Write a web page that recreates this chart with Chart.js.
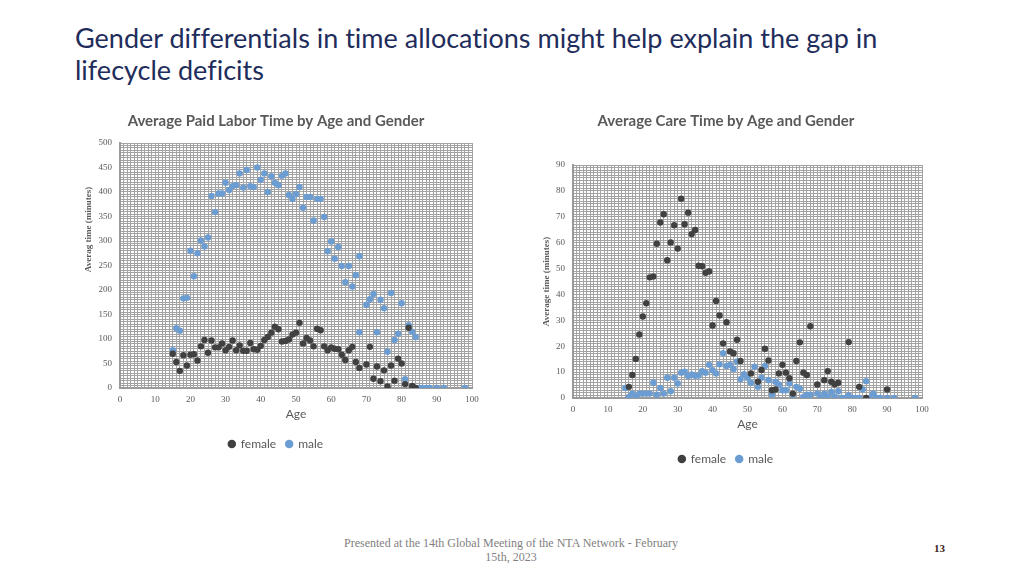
<!DOCTYPE html>
<html>
<head>
<meta charset="utf-8">
<script src="https://cdn.jsdelivr.net/npm/chart.js@4"></script>
<style>
  body { margin: 0; width: 1024px; height: 576px; background: #fff; position: relative; overflow: hidden; font-family: Lato, sans-serif; }
  #slideTitle { position: absolute; left: 75px; top: 22px; font-size: 27px; line-height: 32px; color: #1f2d5c; font-variant-ligatures: no-common-ligatures; }
  #footer { position: absolute; left: 336px; width: 350px; top: 536px; text-align: center; font-family: "Liberation Serif", serif; font-size: 12px; line-height: 14px; color: #7f7f7f; }
  #pageNum { position: absolute; left: 934px; top: 542px; font-family: "Liberation Serif", serif; font-size: 11px; font-weight: bold; color: #3b1c1c; }
  canvas { position: absolute; }
</style>
</head>
<body>
<div id="slideTitle">Gender differentials in time allocations might help explain the gap in<br>lifecycle deficits</div>
<canvas id="paidChart" width="412" height="362" style="left:80px; top:100px;"></canvas>
<canvas id="careChart" width="412" height="380" style="left:530px; top:100px;"></canvas>
<div id="footer">Presented at the 14th Global Meeting of the NTA Network - February 15th, 2023</div>
<div id="pageNum">13</div>
<script>
// Datos: minutos promedio por edad
const paidFemaleAge = [15,16,17,18,19,20,21,22,23,24,25,26,27,28,29,30,31,32,33,34,35,36,37,38,39,40,41,42,43,44,45,46,47,48,49,50,51,52,53,54,55,56,57,58,59,60,61,62,63,64,65,66,67,68,70,71,72,73,74,75,76,77,78,79,80,81,82,83,84];
const paidFemaleMin = [70,53,35,67,46,68,69,56,85,98,72,97,83,83,91,77,84,97,77,87,76,76,92,79,78,86,98,104,113,125,120,95,96,99,109,113,133,91,102,97,85,121,118,85,77,83,80,79,68,57,77,84,53,41,48,84,19,44,14,36,3,46,15,60,50,8,123,4,0];

const paidMaleAge = [15,16,17,18,19,20,21,22,23,24,25,26,27,28,29,30,31,32,33,34,35,36,37,38,39,40,41,42,43,44,45,46,47,48,49,50,51,52,53,54,55,56,57,58,59,60,61,62,63,64,65,66,67,68,68,70,71,72,73,74,75,76,77,78,79,80,81,82,83,84,85,86,87,88,90,92,98];
const paidMaleMin = [77,122,117,183,184,280,228,275,301,289,307,392,359,397,397,419,404,412,414,438,409,445,412,410,450,425,438,400,432,419,414,433,438,394,386,396,410,368,390,390,342,386,386,349,279,299,264,288,249,216,249,207,230,269,114,170,181,192,114,180,163,74,194,98,111,173,18,128,115,104,0,0,0,0,0,0,0];

const careFemaleAge = [16,17,18,19,20,21,22,23,24,25,26,27,28,29,30,31,32,33,34,35,36,37,38,39,40,41,42,43,44,45,46,47,48,51,53,54,55,56,57,58,59,60,61,62,63,64,65,66,67,68,70,72,73,74,75,76,79,82,84,90];
const careFemaleMin = [4.3,8.9,15.1,24.5,31.5,36.6,46.6,46.9,59.6,67.8,71,53.2,60.1,66.7,57.7,77,67.1,71.6,63.3,64.9,51.1,50.9,48.4,48.9,28,37.5,31.9,21.1,29.3,18,17.3,22.5,14.3,9.5,6.3,10.8,19,14.5,3,3.3,9.5,12.8,9.8,7.6,1.7,14.3,21.5,9.8,8.9,27.7,5.2,6.9,10.4,6.3,5.3,5.9,21.6,4.3,0,3.3];

const careMaleAge = [15,16,17,18,19,20,21,22,23,24,25,26,27,28,29,30,31,32,33,34,35,36,37,38,39,40,41,42,43,44,45,46,47,48,49,50,51,52,53,54,55,56,57,58,59,60,61,62,63,64,65,66,67,68,70,71,72,73,74,75,76,77,78,79,80,81,82,83,84,85,86,87,88,90,92,98];
const careMaleMin = [3.9,0.4,1.7,0.4,1.7,1.7,1.7,1.7,5.9,1.3,3.9,1.7,7.8,2.6,7.8,5.6,9.8,10.2,8.5,9.1,8.6,8.7,10.4,9.8,12.8,10.7,9.5,13,17.3,12.4,12.8,11.2,14.1,7.3,9.2,7.8,5.9,12.1,4.3,7.8,12.4,6.9,1.4,6.3,5.2,3,3,5.6,1.3,4.3,3.6,0.4,1.3,1.3,1.7,0,1.7,0.4,2.3,0.4,2.6,0,0,1,0,0,0,3.4,6.5,0,1.7,0,0,0,0,0];

const seriesNames = ["female", "male"];
const femaleColor = "#404040";
const maleColor = "#6b9dd3";

function toPoints(ages, mins) {
    return ages.map((a, i) => ({ x: a, y: mins[i] }));
}

// Pone un ancho/alto fijo al eje para que el área del gráfico quede donde la queremos
function fixSize(prop, size) {
    return (scale) => { scale[prop] = size; };
}

function makeChart(canvasId, opts) {
    const gridColor = "#a3a3a3";
    return new Chart(document.getElementById(canvasId), {
        type: "scatter",
        data: {
            datasets: [
                {
                    label: seriesNames[0],
                    data: opts.female,
                    backgroundColor: femaleColor,
                    borderColor: femaleColor,
                    borderWidth: 0,
                    pointRadius: 3.2,
                    pointStyle: "circle",
                },
                {
                    label: seriesNames[1],
                    data: opts.male,
                    backgroundColor: maleColor,
                    borderColor: maleColor,
                    borderWidth: 0,
                    pointRadius: 3.2,
                    pointStyle: "circle",
                },
            ],
        },
        options: {
            responsive: false,
            animation: false,
            layout: { padding: { left: 0, right: 20, top: 0, bottom: opts.padBottom } },
            plugins: {
                title: {
                    display: true,
                    text: opts.title,
                    color: "#595959",
                    font: { family: "Lato", size: 15, weight: "bold" },
                    padding: { top: 12, bottom: opts.titleGap },
                },
                legend: {
                    position: "bottom",
                    labels: {
                        usePointStyle: true,
                        boxWidth: 6,
                        boxHeight: 6,
                        padding: 10,
                        color: "#595959",
                        font: { family: "Lato", size: 12 },
                    },
                },
                tooltip: { enabled: false },
            },
            scales: {
                x: {
                    type: "linear",
                    min: 0,
                    max: 100,
                    afterFit: fixSize("height", opts.xHeight),
                    grid: { color: gridColor, drawTicks: false },
                    border: { color: "#9a9a9a", width: 2 },
                    ticks: {
                        stepSize: 1,
                        autoSkip: false,
                        maxRotation: 0,
                        padding: 6,
                        color: "#595959",
                        font: { family: "Liberation Serif", size: 9 },
                        callback: (v) => (v % 10 === 0 ? v : ""),
                    },
                    title: {
                        display: true,
                        text: "Age",
                        color: "#595959",
                        font: { family: "Lato", size: 12 },
                        padding: { top: 0, bottom: opts.ageGap },
                    },
                },
                y: {
                    min: 0,
                    max: opts.yMax,
                    afterFit: fixSize("width", opts.yWidth),
                    grid: { color: gridColor, drawTicks: false },
                    border: { color: "#9a9a9a", width: 2 },
                    ticks: {
                        stepSize: opts.yStep,
                        autoSkip: false,
                        padding: 8,
                        color: "#595959",
                        font: { family: "Liberation Serif", size: 9 },
                        callback: (v) => (v % opts.yLabelEvery === 0 ? v : ""),
                    },
                    title: {
                        display: true,
                        text: opts.yTitle,
                        color: "#595959",
                        font: { family: "Liberation Serif", size: 9, weight: "bold" },
                        padding: { top: opts.yTitlePad, bottom: 0 },
                    },
                },
            },
        },
    });
}

makeChart("paidChart", {
    title: "Average Paid Labor Time by Age and Gender",
    // los espacios delante suben el título del eje, como en el original
    yTitle: " ".repeat(32) + "Averag time (minutes)",
    female: toPoints(paidFemaleAge, paidFemaleMin),
    male: toPoints(paidMaleAge, paidMaleMin),
    yMax: 500,
    yStep: 5,
    yLabelEvery: 50,
    yWidth: 40,
    yTitlePad: 3,
    titleGap: 13,
    xHeight: 40,
    ageGap: 7,
    padBottom: 2,
});

makeChart("careChart", {
    title: "Average Care Time by Age and Gender",
    yTitle: "Average time (minutes)",
    female: toPoints(careFemaleAge, careFemaleMin),
    male: toPoints(careMaleAge, careMaleMin),
    yMax: 90,
    yStep: 1,
    yLabelEvery: 10,
    yWidth: 43,
    yTitlePad: 11,
    titleGap: 35,
    xHeight: 45,
    ageGap: 12,
    padBottom: 5,
});
</script>
</body>
</html>
